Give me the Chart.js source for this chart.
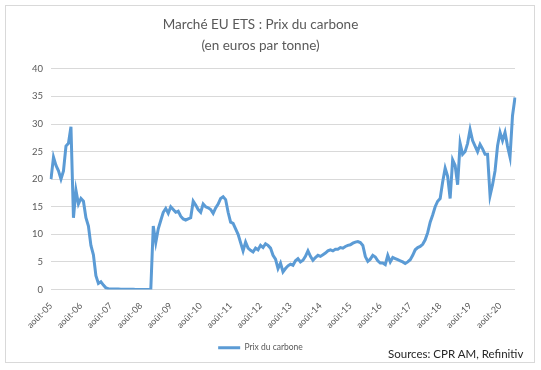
<!DOCTYPE html>
<html>
<head>
<meta charset="utf-8">
<script src="https://cdn.jsdelivr.net/npm/chart.js@4"></script>
<style>
  html, body { margin: 0; padding: 0; background: #fff; }
  #box {
    position: absolute; left: 5px; top: 5px; width: 528px; height: 356px;
    border: 1px solid #d9d9d9;
  }
  #sources {
    position: absolute; left: 388px; top: 347px;
    font: 11.5px Lato, sans-serif; color: #262626; white-space: nowrap;
  }
</style>
</head>
<body>
<div id="box"><canvas id="chart"></canvas></div>
<div id="sources">Sources: CPR AM, Refinitiv</div>
<script>
// Monthly EUA prices (EUR/t), Aug 2005 -> Feb 2021
const p2005 = [20, 24, 22.5, 21.5, 20];
const p2006 = [21.5, 26, 26.5, 29.5, 13, 18, 15.5, 16.5, 16, 13, 11.5, 8];
const p2007 = [6.3, 2.5, 1.1, 1.4, 0.8, 0.3, 0.15, 0.1, 0.1, 0.1, 0.08, 0.05];
const p2008 = [0.05, 0.05, 0.04, 0.03, 0.03, 0.02, 0.02, 0.02, 0.02, 0.02, 0.01, 0.01];
const p2009 = [11.5, 8.5, 11, 12.5, 14, 14.7, 13.8, 15, 14.5, 14, 14.2, 13.3];
const p2010 = [12.8, 12.6, 12.8, 13, 16, 15.3, 14.5, 14, 15.5, 15, 14.8, 14.5];
const p2011 = [13.8, 14.8, 15.5, 16.5, 16.8, 16.3, 14, 12.2, 12, 11, 10, 8.5];
const p2012 = [7, 8.6, 7.5, 7.1, 6.8, 7.5, 7.2, 8, 7.6, 8.3, 8, 7.5];
const p2013 = [6.2, 5.5, 3.8, 4.8, 3.2, 3.8, 4.3, 4.6, 4.4, 5.2, 5.6, 5];
const p2014 = [5.3, 6, 7, 6, 5.3, 5.8, 6.2, 6, 6.3, 6.6, 7, 7.2];
const p2015 = [7, 7.3, 7.3, 7.6, 7.5, 7.8, 8, 8.1, 8.4, 8.6, 8.7, 8.5];
const p2016 = [8, 6, 5.1, 5.5, 6.2, 5.9, 5.2, 4.8, 4.8, 4.5, 6.2, 5];
const p2017 = [5.8, 5.6, 5.4, 5.2, 5, 4.7, 5, 5.4, 6.2, 7.2, 7.6, 7.8];
const p2018 = [8.2, 9, 10.3, 12.2, 13.5, 15, 16, 16.5, 19.5, 22, 20.5, 16.5];
const p2019 = [23.5, 22.5, 19, 26.5, 24.5, 25, 26.5, 29, 27, 26, 25, 26.3];
const p2020 = [25.5, 24.5, 24.5, 17, 19, 21.5, 26, 28.5, 27, 28.5, 26, 24];
const p2021 = [31.5, 34.8];

const prices = [].concat(p2005, p2006, p2007, p2008, p2009, p2010, p2011, p2012,
  p2013, p2014, p2015, p2016, p2017, p2018, p2019, p2020, p2021);

const monthNames = ["janv.", "févr.", "mars", "avr.", "mai", "juin", "juil.", "août", "sept.", "oct.", "nov.", "déc."];
const labels = prices.map((_, i) => {
  const m = (7 + i) % 12;
  const y = 2005 + Math.floor((7 + i) / 12);
  return monthNames[m] + "-" + String(y).slice(2);
});

const yTicks = [0, 5, 10, 15, 20, 25, 30, 35, 40];
const gray = "#595959";

new Chart(document.getElementById("chart"), {
  type: "line",
  data: {
    labels: labels,
    datasets: [{
      label: "Prix du carbone",
      data: prices,
      borderColor: "#5b9bd5",
      backgroundColor: "#5b9bd5",
      borderWidth: 3,
      pointRadius: 0,
      tension: 0
    }]
  },
  options: {
    responsive: true,
    maintainAspectRatio: false,
    animation: false,
    layout: { padding: { left: 0, right: 19, top: 8, bottom: 0 } },
    plugins: {
      title: {
        display: true,
        text: ["Marché EU ETS : Prix du carbone", "(en euros par tonne)"],
        color: gray,
        font: { family: "Lato", size: 13.5, weight: "normal", lineHeight: 1.55 },
        padding: { top: 0, bottom: 13 }
      },
      legend: {
        position: "bottom",
        labels: {
          color: gray,
          font: { family: "Lato", size: 8.5 },
          usePointStyle: true,
          pointStyle: "line",
          pointStyleWidth: 22,
          padding: 4
        }
      },
      tooltip: { enabled: false }
    },
    scales: {
      x: {
        grid: { display: false },
        border: { display: false },
        ticks: {
          color: gray,
          font: { family: "Lato", size: 9 },
          autoSkip: false,
          minRotation: 45,
          maxRotation: 45,
          padding: 3,
          callback: (v, i) => (i % 12 === 0 ? labels[i] : "")
        },
        afterFit: s => { s.height = 50; }
      },
      y: {
        min: 0,
        max: 40,
        afterBuildTicks: s => { s.ticks = yTicks.map(v => ({ value: v })); },
        grid: { color: "#d9d9d9", drawTicks: false },
        border: { display: false },
        ticks: {
          color: gray,
          font: { family: "Lato", size: 9.5 },
          padding: 8
        },
        afterFit: s => { s.width = 45; }
      }
    }
  }
});
</script>
</body>
</html>
